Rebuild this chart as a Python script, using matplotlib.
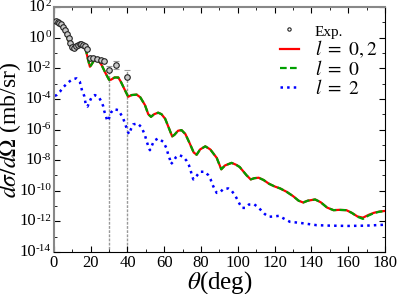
import matplotlib
matplotlib.use('Agg')
import matplotlib.pyplot as plt
import matplotlib.ticker as ticker
import numpy as np

plt.rcParams['font.family'] = ['Liberation Serif', 'DejaVu Serif']
plt.rcParams['mathtext.fontset'] = 'stix'

# l = 0,2 (full) and l = 0 curves, log10 of cross section
theta_c = [0.5, 2, 4, 6, 8, 9.5, 10.5, 11.5, 13, 15, 16.5, 17.5, 18.5, 19.6, 20.5,
           22.5, 24, 26, 28, 30, 31, 33, 35, 36.5, 38.5, 40.4, 42.2, 45, 47, 49.5,
           51.3, 52.8, 54.5, 56.7, 58.5, 60.5, 62.5, 64.3, 65.5, 67.5, 69.4, 71.5,
           74, 76, 77.6, 79.5, 82.3, 85, 88.5, 91, 93, 96.6, 99, 101, 104.8, 107,
           109, 111.3, 114, 117, 120, 123, 126.5, 130, 133, 135.5, 138, 142, 145,
           148.5, 152, 155, 159, 162, 165, 168, 171, 174, 177, 180]
log_full = [1.1, 1.05, 0.85, 0.45, -0.2, -0.55, -0.7, -0.6, -0.45, -0.38, -0.5,
            -0.85, -1.4, -1.9, -1.75, -1.35, -1.45, -1.8, -2.3, -2.75, -2.75, -2.6,
            -2.6, -2.9, -3.4, -3.86, -3.75, -3.72, -3.9, -4.4, -5.0, -5.17, -5.0,
            -4.9, -5.0, -5.3, -5.9, -6.45, -6.35, -6.08, -6.04, -6.3, -6.95, -7.5,
            -7.65, -7.3, -7.1, -7.3, -7.85, -8.6, -8.35, -8.18, -8.3, -8.45, -9.0,
            -9.26, -9.18, -9.15, -9.3, -9.55, -9.72, -9.85, -10.07, -10.35, -10.65,
            -10.77, -10.65, -10.57, -10.75, -11.1, -11.27, -11.25, -11.27, -11.45,
            -11.68, -11.76, -11.58, -11.44, -11.36, -11.32]
log_l0 = [1.1, 1.05, 0.85, 0.45, -0.2, -0.55, -0.7, -0.6, -0.45, -0.38, -0.5,
          -0.85, -1.4, -1.9, -1.75, -1.35, -1.45, -1.8, -2.3, -2.75, -2.75, -2.6,
          -2.6, -2.9, -3.4, -3.86, -3.75, -3.72, -3.9, -4.4, -5.0, -5.17, -5.0,
          -4.9, -5.0, -5.3, -5.9, -6.45, -6.35, -6.08, -6.04, -6.3, -6.95, -7.5,
          -7.65, -7.3, -7.1, -7.3, -7.85, -8.6, -8.35, -8.18, -8.3, -8.45, -9.0,
          -9.26, -9.18, -9.15, -9.3, -9.55, -9.72, -9.85, -10.07, -10.35, -10.65,
          -10.77, -10.65, -10.57, -10.75, -11.1, -11.27, -11.25, -11.27, -11.45,
          -11.7, -11.84, -11.62, -11.46, -11.37, -11.33]

# l = 2 curve
theta_2 = [0.5, 1.5, 3.3, 5, 6.9, 8.7, 10.5, 12.3, 14.1, 15.4, 16.5, 17.4, 18.3,
           19.2, 20.5, 22.3, 24.5, 25.9, 26.8, 27.4, 28.3, 29, 30.1, 31, 32.6, 35,
           36.4, 37.7, 38.6, 39.5, 40.4, 41, 41.9, 43.1, 45.5, 47.7, 49.5, 50.4,
           51.3, 52.2, 54.4, 56.7, 59.4, 61.3, 62.2, 63.1, 63.6, 64.9, 66.2, 68.1,
           70.3, 72.1, 73.4, 74.3, 74.9, 75.8, 77.6, 79.4, 82.1, 83.9, 85.2, 86.1,
           87.2, 88.5, 90.3, 92.1, 94.8, 96.6, 98.4, 99.7, 100.8, 102.2, 103.9,
           106, 108.8, 110.7, 112.6, 114.7, 116.9, 119.6, 122.3, 124.7, 128.3,
           133.8, 142.8, 150, 160, 170, 180]
log_l2 = [-3.8, -3.75, -3.53, -3.25, -3.03, -2.84, -2.7, -2.66, -2.88, -3.5, -3.8,
          -4.4, -4.5, -4.23, -3.9, -3.75, -3.9, -4.19, -4.47, -4.8, -5.12, -5.45,
          -5.23, -4.9, -4.67, -4.73, -5.0, -5.28, -5.6, -5.89, -6.2, -6.3, -5.97,
          -5.67, -5.6, -5.86, -6.37, -6.76, -7.08, -7.35, -6.74, -6.58, -6.8,
          -7.24, -7.67, -7.96, -8.26, -8.1, -7.83, -7.67, -7.78, -8.04, -8.33,
          -8.65, -8.94, -9.26, -9.03, -8.76, -8.76, -8.98, -9.26, -9.57, -9.85,
          -10.14, -10.11, -9.88, -9.85, -10.0, -10.29, -10.57, -10.83, -11.12,
          -11.12, -10.9, -10.88, -11.05, -11.27, -11.53, -11.7, -11.68, -11.64,
          -11.8, -12.03, -12.1, -12.25, -12.28, -12.3, -12.28, -12.22]

# experimental data
theta_exp = [1, 2, 3, 4, 5, 6, 7, 8, 9, 10, 11, 12, 13, 14, 15, 16, 17, 18,
             19.5, 21.5, 23.5, 25.5, 27]
log_exp = [1.1, 1.05, 0.97, 0.87, 0.72, 0.52, 0.27, -0.05, -0.35, -0.6, -0.68,
           -0.55, -0.45, -0.4, -0.42, -0.46, -0.55, -0.72, -1.3, -1.33, -1.38,
           -1.45, -1.52]
theta_err = [30, 34, 40]
log_err = [-2.12, -1.76, -2.55]
log_err_hi = [-1.86, -1.5, -2.1]
log_err_lo = [-20, -2.07, -20]

y_ticks = [-14, -12, -10, -8, -6, -4, -2, 0, 2]

fig = plt.figure(figsize=(3.99, 2.94), dpi=100)
ax = fig.add_axes([0.135, 0.143, 0.83, 0.833])

y_exp = 10.0 ** np.array(log_exp)
y_err = 10.0 ** np.array(log_err)
lo = y_err - 10.0 ** np.array(log_err_lo)
hi = 10.0 ** np.array(log_err_hi) - y_err

eb = ax.errorbar(theta_err, y_err, yerr=[lo, hi], fmt='none', ecolor='#999999',
                 elinewidth=1.0, capsize=2, capthick=0.8, zorder=1)
eb[-1][0].set_linestyle((0, (2, 1)))
ax.plot(theta_exp + theta_err, np.concatenate([y_exp, y_err]), 'o', ms=4,
        mfc='#c8c8c8', mec='#222222', mew=0.8, zorder=4, label='Exp.')

ax.plot(theta_c, 10.0 ** np.array(log_full), '-', color='red', lw=1.6,
        zorder=2, label='$l\\ =\\ 0,2$')
ax.plot(theta_c, 10.0 ** np.array(log_l0), '--', color='#00a000', lw=1.6,
        dashes=(3, 1.5), zorder=3, label='$l\\ =\\ 0$')
ax.plot(theta_2, 10.0 ** np.array(log_l2), ':', color='blue', lw=1.8,
        zorder=2, label='$l\\ =\\ 2$')

ax.set_yscale('log')
ax.set_xlim(0, 180)
ax.set_ylim(1e-14, 1e2)
ax.xaxis.set_major_locator(ticker.MultipleLocator(20))
ax.xaxis.set_minor_locator(ticker.MultipleLocator(10))
ax.yaxis.set_major_locator(ticker.FixedLocator([10.0 ** k for k in y_ticks]))
ax.yaxis.set_major_formatter(ticker.NullFormatter())
ax.yaxis.set_minor_locator(ticker.FixedLocator([10.0 ** k for k in range(-13, 2, 2)]))
ax.yaxis.set_minor_formatter(ticker.NullFormatter())
ax.tick_params(which='both', direction='in', top=True, right=True, labelsize=12)
ax.tick_params(axis='x', pad=2)
ax.tick_params(which='major', length=4)
ax.tick_params(which='minor', length=2.5)
for side in ['left', 'top']:
    ax.spines[side].set_color('#888888')
    ax.spines[side].set_linewidth(1.5)

# y tick labels: "10" with a small raised exponent
for k in y_ticks:
    ex = ax.annotate(str(k), xy=(0, 10.0 ** k), xycoords=('axes fraction', 'data'),
                     xytext=(-2, -1), textcoords='offset points',
                     ha='right', va='bottom', fontsize=8)
    ax.annotate('10', xy=(0, 0), xycoords=ex, xytext=(0, 1),
                textcoords='offset points', ha='right', va='center', fontsize=12)

ax.set_xlabel(r'$\theta$(deg)', fontsize=18, labelpad=-1)
ax.set_ylabel(r'$d\sigma/d\Omega$ (mb/sr)', fontsize=17)
ax.yaxis.set_label_coords(-0.094, 0.5)

leg = ax.legend(loc='upper right', frameon=False, fontsize=14, handlelength=1.0,
                handletextpad=0.8, labelspacing=0.0, borderaxespad=0.0,
                bbox_to_anchor=(1.0, 0.97), markerscale=0.6)
leg.get_texts()[0].set_fontsize(11)
leg.legend_handles[0].set_markerfacecolor('white')

fig.savefig('out.png', dpi=100)
